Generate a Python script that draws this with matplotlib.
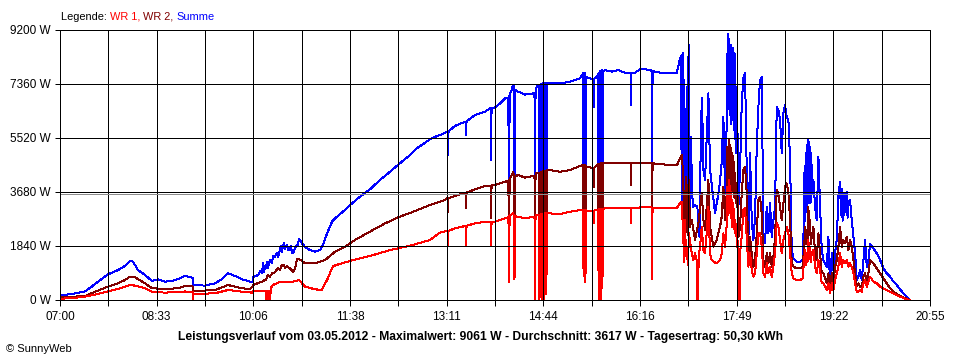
import matplotlib
matplotlib.use("Agg")
import matplotlib.pyplot as plt
import numpy as np

# ---------------- data (minutes after 07:00, watts) ----------------
x_labels = ["07:00", "08:33", "10:06", "11:38", "13:11", "14:44", "16:16", "17:49", "19:22", "20:55"]
y_values = [0, 1840, 3680, 5520, 7360, 9200]
average_w = 3617
series_names = ["WR 1", "WR 2", "Summe"]
title = ("Leistungsverlauf vom 03.05.2012 - Maximalwert: 9061 W - "
         "Durchschnitt: 3617 W - Tagesertrag: 50,30 kWh")

summe = [
    (0, 160), (11.2, 205), (24.0, 295), (30.4, 455), (36.5, 625), (46.1, 875), (55.7, 1020),
    (62.4, 1160), (67.2, 1340), (70.1, 1305), (74.9, 1020), (81.6, 850), (88.3, 650), (94.1, 705),
    (100.8, 625), (107.5, 650), (113.3, 715), (120.0, 820), (124.8, 775), (127.2, 760), (127.6, 230),
    (128.1, 510), (129.6, 510), (139.2, 490), (148.8, 570), (155.5, 715), (161.2, 910), (168.0, 820),
    (174.7, 705), (182.4, 625), (184.8, 625), (185.2, 775), (190.0, 850), (192.5, 1000), (193.9, 910),
    (194.8, 1250), (195.7, 950), (196.8, 1150), (197.7, 1080), (198.6, 1300), (199.5, 1100),
    (201.5, 1360), (203.4, 1250), (204.4, 1500), (206.3, 1475), (208.2, 1600), (209.2, 1450),
    (211.1, 1700), (212.1, 1850), (213.0, 1650), (214.0, 1815), (215.0, 1950), (216.0, 1750),
    (217.9, 1875), (218.8, 1700), (220.7, 1700), (221.7, 1850), (222.6, 1600), (223.6, 1590),
    (225.5, 1750), (226.5, 1815), (228.4, 1900), (229.4, 2070), (230.3, 2050), (232.3, 1930),
    (235.1, 1815), (239.9, 1700), (244.7, 1645), (249.5, 1700), (252.4, 1875), (256.3, 2270),
    (261.1, 2670), (265.9, 2840), (271.6, 3010), (278.3, 3235), (287.9, 3520), (297.5, 3770),
    (307.1, 4090), (316.7, 4370), (326.3, 4660), (335.9, 4940), (342.6, 5170), (357.0, 5520),
    (364.7, 5620), (371.4, 5735), (371.9, 5735), (372.4, 4940), (372.9, 5750), (379.1, 5930),
    (388.7, 6075), (389.2, 6075), (389.7, 5620), (390.2, 6090), (398.3, 6300), (407.9, 6415),
    (412.7, 6530), (413.2, 6530), (413.7, 4770), (414.2, 6540), (417.5, 6565), (422.3, 6700),
    (427.1, 6870), (429.5, 6880), (430.0, 5960), (430.5, 6950), (431.0, 1100), (431.5, 7000),
    (433.0, 7100), (434.8, 7325), (435.3, 7300), (436.2, 1000), (436.7, 7000), (437.5, 7150),
    (439.6, 7100), (446.3, 7000), (453.9, 7040), (455.4, 7040), (455.9, 1100), (456.4, 7200),
    (458.8, 7325), (459.5, 7300), (460.2, 700), (460.7, 7300), (461.2, 800), (461.7, 7350),
    (462.2, 600), (462.7, 7350), (463.2, 900), (463.7, 7400), (464.2, 700), (464.7, 7350),
    (465.2, 1000), (465.7, 7400), (466.2, 800), (466.7, 7380), (467.2, 1200), (467.7, 7400),
    (468.4, 7380), (470.3, 7380), (479.9, 7380), (489.5, 7440), (499.1, 7550), (502.0, 7720),
    (502.5, 1000), (503.0, 7700), (503.5, 1200), (504.0, 7750), (504.5, 1300), (505.0, 7600),
    (508.7, 7550), (512.0, 7500), (512.5, 6590), (513.0, 7550), (515.4, 7600), (516.5, 7700),
    (517.0, 2000), (517.5, 7750), (518.0, 1900), (518.5, 7800), (519.0, 2200), (519.5, 7800),
    (520.0, 2500), (520.5, 7850), (521.0, 3000), (521.5, 7800), (523.1, 7835), (529.8, 7780),
    (535.6, 7835), (542.3, 7745), (547.1, 7720), (547.6, 7720), (548.0, 6640), (548.5, 7720),
    (551.8, 7745), (556.7, 7855), (561.5, 7855), (567.7, 7850), (568.2, 1020), (568.7, 7800),
    (571.1, 7780), (575.9, 7745), (580.7, 7745), (585.5, 7745), (590.3, 7745), (591.9, 7722),
    (595.1, 8233), (596.2, 8300), (596.7, 3000), (597.2, 8350), (597.7, 8404), (598.3, 4316),
    (598.8, 7500), (599.3, 6133), (599.9, 2726), (600.4, 6500), (601.0, 3000), (601.5, 7268),
    (602.1, 4000), (602.7, 8290), (603.2, 3500), (603.7, 8700), (604.4, 2726), (605.3, 5565),
    (607.3, 3180), (609.5, 3237), (611.7, 3180), (613.7, 2158), (615.3, 6133), (616.2, 6871),
    (617.5, 4429), (619.1, 4089), (620.7, 5565), (622.3, 7041), (623.9, 4429), (626.5, 3634),
    (628.7, 2953), (630.9, 3407), (632.9, 3861), (634.8, 4543), (636.7, 6246), (638.3, 3634),
    (640.0, 6200), (640.5, 8404), (641.0, 6500), (641.5, 9061), (642.0, 7000), (642.5, 8900),
    (643.1, 6300), (643.6, 8700), (644.1, 6000), (644.4, 8631), (644.9, 6500), (645.4, 8500),
    (645.7, 6133), (646.3, 8600), (646.9, 5800), (647.4, 8404), (647.9, 5500), (648.2, 7500),
    (648.7, 4997), (649.2, 7268), (649.5, 5200), (650.0, 6800), (650.5, 4500),
    (651.1, 3180), (652.7, 4429), (654.3, 6700), (655.9, 7552), (657.5, 7722), (659.1, 4429),
    (660.7, 2044), (662.3, 4997), (663.9, 2726), (665.5, 2044), (667.1, 2839), (668.7, 5224),
    (670.3, 6587), (671.9, 7496), (673.5, 7609), (675.1, 2271), (676.7, 1931), (678.3, 3180),
    (679.9, 2271), (681.5, 3294), (683.1, 2158), (684.7, 2726), (686.3, 3180), (687.9, 6587),
    (689.5, 6473), (691.1, 6133), (692.7, 4997), (694.3, 6360), (695.9, 6644), (697.5, 6246),
    (699.1, 6133), (700.7, 4770), (702.3, 1704), (703.9, 1420), (707.1, 1306), (710.3, 1306),
    (712.9, 1363), (714.1, 2953), (714.6, 4500), (715.1, 2700), (715.6, 5000), (716.1, 3000),
    (716.7, 5300), (717.2, 3200), (717.7, 5500), (718.2, 3300), (718.7, 5400), (719.3, 3500),
    (719.8, 5200), (720.3, 3300), (720.8, 5000), (721.3, 3600), (721.8, 4600), (722.4, 3861),
    (723.1, 4089), (724.7, 3180), (726.3, 2726), (727.9, 4884),
    (729.5, 3180), (731.1, 1704), (732.7, 1363), (735.9, 1136), (737.5, 2158), (739.1, 454),
    (740.7, 1590), (742.3, 1022), (743.9, 1590), (745.5, 2044), (747.1, 3521), (748.7, 4032),
    (749.5, 2900), (750.3, 3800), (751.1, 2700), (751.9, 3600), (752.7, 2900), (753.5, 3634),
    (754.3, 3000), (755.1, 3691), (755.9, 2800), (756.7, 3300), (758.3, 3407),
    (759.9, 2726), (761.5, 2158), (763.1, 1590), (764.7, 681), (766.3, 795), (767.9, 1022),
    (769.5, 681), (771.1, 1363), (772.7, 2044), (774.3, 1136), (775.9, 1363), (777.5, 1908),
    (780.7, 1760), (783.9, 1590), (787.1, 1363), (790.3, 1079), (793.5, 908), (796.7, 795),
    (799.9, 625), (803.1, 511), (806.3, 363), (809.5, 227), (812.7, 114), (815.3, 20),
]

wr2 = [
    (0, 90), (24.0, 135), (36.5, 320), (46.1, 455), (55.7, 570), (62.4, 680), (67.2, 795),
    (72.0, 775), (81.6, 570), (88.3, 400), (100.8, 375), (113.3, 400), (120.0, 475), (127.2, 470),
    (127.6, 0), (128.1, 305), (129.6, 305), (148.8, 340), (161.2, 510), (174.7, 400), (182.4, 375),
    (184.8, 455), (185.2, 510), (193.9, 625), (197.7, 700), (199.5, 850), (201.5, 795), (203.4, 900),
    (206.3, 950), (209.2, 1100), (211.1, 1020), (213.0, 1200), (215.0, 1190), (216.0, 1100),
    (217.9, 1150), (220.7, 1080), (223.6, 965), (225.5, 1050), (227.5, 1385), (229.4, 1385),
    (232.3, 1330), (235.1, 1250), (244.7, 1250), (254.3, 1360), (263.9, 1645), (273.5, 1815),
    (283.1, 2045), (297.5, 2330), (311.9, 2610), (326.3, 2840), (340.7, 3030), (355.1, 3235),
    (364.7, 3350), (369.5, 3405), (371.4, 3465), (371.9, 3465), (372.4, 3010), (372.9, 3470),
    (379.1, 3545), (388.7, 3655), (389.2, 3655), (389.7, 3125), (390.2, 3660), (398.3, 3770),
    (407.9, 3885), (412.7, 3900), (413.2, 3900), (413.7, 2780), (414.2, 3910), (417.5, 3920),
    (427.1, 4030), (429.5, 4050), (430.0, 3580), (430.5, 4100), (431.0, 900), (431.5, 4150),
    (433.0, 4200), (434.8, 4370), (435.3, 4300), (436.2, 1300), (436.7, 4200), (439.6, 4260),
    (446.3, 4170), (453.9, 4225), (455.4, 4225), (455.9, 500), (456.4, 4300), (457.8, 4340),
    (459.5, 4340), (460.2, 600), (460.7, 4300), (461.2, 500), (461.7, 4350), (462.2, 450),
    (462.7, 4350), (463.2, 700), (463.7, 4400), (464.2, 550), (464.7, 4400), (465.2, 800),
    (465.7, 4400), (466.2, 600), (466.7, 4400), (467.2, 1000), (467.7, 4420), (468.4, 4430),
    (470.3, 4430), (479.9, 4370), (489.5, 4430), (497.2, 4540), (502.0, 4600), (502.5, 1000),
    (503.0, 4600), (503.5, 1100), (504.0, 4600), (504.5, 1200), (505.0, 4550), (508.7, 4520),
    (512.0, 4500), (512.5, 3860), (513.0, 4520), (515.4, 4600), (516.5, 4620), (517.0, 800),
    (517.5, 4650), (518.0, 700), (518.5, 4650), (519.0, 900), (519.5, 4660), (520.0, 1100),
    (520.5, 4680), (521.0, 1500), (521.5, 4680), (523.1, 4680), (532.7, 4660), (542.3, 4680),
    (547.6, 4680), (548.0, 3920), (548.5, 4680), (556.7, 4680), (566.3, 4680), (567.7, 4680),
    (568.2, 1020), (568.7, 4660), (575.9, 4630), (585.5, 4600), (592.2, 4600), (595.1, 4825),
    (597.0, 4940), (598.3, 3975), (599.1, 2300), (599.9, 2726), (600.7, 4200), (601.5, 3861),
    (602.3, 2200), (603.7, 4089), (604.5, 2498),
    (606.3, 2726), (609.5, 2044), (612.7, 2612), (615.9, 3634), (617.5, 2726), (619.1, 2385),
    (620.7, 3180), (622.3, 4089), (623.9, 2498), (627.1, 1817), (630.3, 2044), (633.5, 2498),
    (635.1, 2839), (636.7, 3861), (638.3, 2726),
    (640.0, 3700), (640.5, 5224), (641.0, 4000), (641.8, 5451), (642.3, 4300), (642.8, 5300),
    (643.1, 4000), (643.6, 5200), (644.1, 3800), (644.7, 4997), (645.2, 3700), (645.7, 4900),
    (646.3, 3861), (646.8, 4700), (647.3, 3500), (647.9, 4316), (648.4, 3300), (649.0, 4000),
    (649.5, 3180), (650.2, 3600), (651.1, 2158), (652.7, 2498),
    (654.3, 3634), (655.9, 4429), (657.5, 4543), (659.1, 3634), (660.7, 1590), (662.3, 2158),
    (663.9, 1590), (665.5, 1136), (667.1, 1363), (668.7, 2271), (670.3, 3407), (671.9, 3521),
    (673.5, 2953), (675.1, 1363), (676.7, 1136), (678.3, 1590), (679.9, 1249), (681.5, 1590),
    (683.1, 1136), (684.7, 1476), (686.3, 2158), (687.9, 3748), (689.5, 3634), (691.1, 3180),
    (692.7, 2726), (694.3, 3294), (695.9, 3861), (697.5, 3975), (699.1, 3634), (700.7, 2726),
    (702.3, 1249), (703.9, 1136), (707.1, 1079), (710.3, 1079), (712.9, 1136), (714.1, 1817),
    (715.4, 2498), (716.1, 1900), (716.7, 2271), (717.5, 2000), (718.3, 3180), (719.1, 2200),
    (719.9, 2726), (720.7, 1900), (721.5, 2158), (723.1, 2498),
    (724.7, 1590), (726.3, 1363), (727.9, 2271), (729.5, 1590), (731.1, 908), (732.7, 908),
    (735.9, 568), (737.5, 908), (739.1, 341), (740.7, 908), (742.3, 568), (743.9, 1136),
    (745.5, 1363), (747.1, 1817), (748.7, 2498), (750.3, 1817), (751.9, 2044), (753.5, 1931),
    (755.1, 2158), (756.7, 1704), (758.3, 2044), (759.9, 1817), (761.5, 1363), (763.1, 908),
    (764.7, 454), (766.3, 568), (767.9, 454), (769.5, 454), (771.1, 795), (772.7, 908),
    (774.3, 568), (775.9, 908), (777.5, 1363), (780.7, 1249), (783.9, 1079), (787.1, 908),
    (790.3, 738), (793.5, 568), (796.7, 397), (799.9, 284), (803.1, 204), (806.3, 148),
    (809.5, 91), (812.7, 45), (815.3, 0),
]

wr1 = [
    (0, 45), (11.2, 60), (24.0, 115), (36.5, 205), (46.1, 295), (55.7, 375), (67.2, 510),
    (72.0, 490), (81.6, 400), (88.3, 285), (100.8, 250), (113.3, 285), (120.0, 290), (127.2, 285),
    (127.6, 0), (128.1, 205), (129.6, 205), (148.8, 230), (161.2, 340), (174.7, 285), (184.3, 250),
    (185.2, 320), (193.9, 320), (197.7, 320), (198.2, 0), (198.6, 320), (199.7, 0), (200.1, 320),
    (201.8, 0), (202.2, 400), (204.4, 510), (211.1, 625), (220.7, 600), (229.4, 680), (235.1, 455),
    (244.7, 365), (251.4, 340), (253.4, 500), (256.3, 680), (260.1, 1000), (262.0, 1150),
    (265.9, 1200), (278.3, 1330), (297.5, 1500), (316.7, 1700), (335.9, 1850), (355.1, 2045),
    (364.7, 2295), (371.4, 2350), (371.9, 2350), (372.4, 1875), (372.9, 2360), (379.1, 2440),
    (388.7, 2520), (389.2, 2520), (389.7, 1875), (390.2, 2530), (398.3, 2610), (407.9, 2670),
    (413.2, 2670), (413.7, 1875), (414.2, 2670), (417.5, 2670), (427.1, 2780), (429.5, 2780),
    (430.0, 2610), (430.5, 2850), (431.0, 600), (431.5, 2880), (433.0, 2895), (434.8, 2950),
    (435.3, 2900), (436.2, 700), (436.7, 2850), (439.6, 2840), (446.3, 2780), (453.9, 2840),
    (455.4, 2840), (455.9, 0), (456.4, 2880), (457.8, 2900), (459.5, 2900), (460.2, 0),
    (460.7, 2900), (461.2, 400), (461.7, 2920), (462.2, 0), (462.7, 2920), (463.2, 500),
    (463.7, 2940), (464.2, 0), (464.7, 2940), (465.2, 700), (465.7, 2950), (466.2, 200),
    (466.7, 2950), (467.2, 900), (467.7, 2950), (468.4, 2950), (470.3, 2950), (479.9, 2930),
    (489.5, 3010), (499.1, 3065), (502.0, 3080), (502.5, 800), (503.0, 3080), (503.5, 600),
    (504.0, 3080), (504.5, 900), (505.0, 3050), (508.7, 3040), (512.0, 3040), (512.5, 2610),
    (513.0, 3050), (515.4, 3065), (516.5, 3080), (517.0, 0), (517.5, 3090), (518.0, 200),
    (518.5, 3090), (519.0, 0), (519.5, 3100), (520.0, 400), (520.5, 3100), (521.0, 800),
    (521.5, 3100), (523.1, 3125), (532.7, 3125), (542.3, 3125), (547.6, 3125), (548.0, 2610),
    (548.5, 3125), (556.7, 3155), (566.3, 3160), (567.7, 3160), (568.2, 700), (568.7, 3150),
    (575.9, 3125), (585.5, 3125), (592.2, 3150), (595.1, 3294), (596.7, 3351), (598.3, 2044),
    (599.1, 1300), (599.9, 2726), (600.7, 1500), (601.5, 1817), (602.6, 1200), (603.7, 2271),
    (606.3, 1590), (607.9, 1363), (609.5, 1590),
    (611.1, 1363), (611.7, 0), (612.3, 0), (613.0, 1500), (614.3, 1817), (615.9, 2498),
    (617.5, 1704), (619.1, 1590), (620.7, 2271), (622.3, 3180), (623.9, 1590), (625.5, 1363),
    (627.1, 1306), (630.3, 1249), (633.5, 1363), (635.1, 1590), (636.7, 2271), (638.3, 1817),
    (640.0, 2600), (640.5, 3861), (641.0, 2900), (641.8, 4089), (642.3, 3100), (642.8, 3900),
    (643.1, 2953), (643.6, 3700), (644.1, 2800), (644.7, 3407), (645.2, 2500), (645.7, 3300),
    (646.3, 2498), (646.8, 3100), (647.3, 2400), (647.9, 2726), (648.4, 2200), (649.0, 2600),
    (649.5, 1817), (650.2, 2100), (651.1, 1022), (651.7, 0), (652.4, 0), (652.7, 1590),
    (654.3, 2158),
    (655.9, 3067), (657.5, 3123), (659.1, 2158), (660.7, 1136), (662.3, 1590), (663.9, 1022),
    (665.5, 795), (667.1, 908), (668.7, 1590), (670.3, 2271), (671.9, 2271), (673.5, 1817),
    (675.1, 908), (676.7, 795), (678.3, 1249), (679.9, 908), (681.5, 1136), (683.1, 795),
    (684.7, 1136), (686.3, 1590), (687.9, 2612), (689.5, 2498), (691.1, 2044), (692.7, 1590),
    (694.3, 2044), (695.9, 2271), (697.5, 2498), (699.1, 2271), (700.7, 1590), (702.3, 908),
    (703.9, 738), (707.1, 681), (710.3, 681), (712.9, 738), (714.1, 1363), (715.4, 1704),
    (716.1, 1200), (716.7, 1590), (717.5, 1300), (718.3, 2044), (719.1, 1400), (719.9, 1817),
    (720.7, 1300), (721.5, 1590), (723.1, 1704), (724.7, 1136),
    (726.3, 908), (727.9, 1363), (729.5, 1022), (731.1, 568), (732.7, 568), (735.9, 341),
    (737.5, 568), (739.1, 227), (740.7, 568), (742.3, 341), (743.9, 681), (745.5, 908),
    (747.1, 1136), (748.7, 1590), (750.3, 1136), (751.9, 1363), (753.5, 1249), (755.1, 1363),
    (756.7, 1136), (758.3, 1249), (759.9, 1136), (761.5, 908), (763.1, 568), (764.7, 284),
    (766.3, 284), (767.9, 341), (769.5, 284), (771.1, 568), (772.7, 681), (774.3, 454),
    (775.9, 624), (777.5, 795), (780.7, 625), (783.9, 568), (787.1, 454), (790.3, 397),
    (793.5, 341), (796.7, 284), (799.9, 227), (803.1, 170), (806.3, 114), (809.5, 68),
    (812.7, 23), (815.3, 0),
]

colors = {"WR 1": "#ff0000", "WR 2": "#800000", "Summe": "#0000ff"}

# ---------------- figure ----------------
W, H = 960, 360
fig = plt.figure(figsize=(W / 100, H / 100), dpi=100)
fig.patch.set_facecolor("white")
ax = fig.add_axes([60 / W, 60 / H, 870 / W, 270 / H])

start = 7 * 60
end = 20 * 60 + 55
FONT = "Liberation Sans"
LW = 0.72

for name, data in [("Summe", summe), ("WR 2", wr2), ("WR 1", wr1)]:
    t = np.array([start + p[0] for p in data])
    v = np.array([p[1] for p in data])
    ax.plot(t, v, color=colors[name], lw=LW, antialiased=False, zorder=2)

ax.set_xlim(start, end)
ax.set_ylim(0, 9200)

major = np.linspace(start, end, len(x_labels))
minor = (major[:-1] + major[1:]) / 2
for xv in list(major[1:-1]) + list(minor):
    ax.axvline(xv, color="black", lw=LW, zorder=3, antialiased=False)
for yv in y_values[1:-1]:
    ax.axhline(yv, color="black", lw=LW, zorder=3, antialiased=False)
ax.axhline(average_w, color="#8c8c8c", lw=LW, zorder=4, antialiased=False)

for s in ax.spines.values():
    s.set_linewidth(LW)
    s.set_color("black")
    s.set_zorder(5)
    s.set_antialiased(False)

ax.set_xticks(major)
ax.set_xticklabels(x_labels)
ax.set_xticks(minor, minor=True)
ax.set_yticks(y_values)
ax.set_yticklabels([f"{v} W" for v in y_values])
ax.tick_params(axis="x", which="both", direction="out", length=4.3, width=LW,
               pad=3.5, labelsize=8.5, colors="black")
ax.tick_params(axis="y", direction="out", length=3.6, width=LW, pad=3.0,
               labelsize=8.5, colors="black")
for lab in ax.get_xticklabels() + ax.get_yticklabels():
    lab.set_fontfamily(FONT)

# legend line at top
fig.canvas.draw()
renderer = fig.canvas.get_renderer()
x_px = 61
pieces = [("Legende: ", "black")] + [
    (n + (", " if i < 2 else ""), colors[n]) for i, n in enumerate(series_names)]
for txt, col in pieces:
    tt = fig.text(x_px / W, 1 - 16.5 / H, txt, color=col, fontsize=7.9, family=FONT,
                  va="center", ha="left")
    bb = tt.get_window_extent(renderer)
    x_px += bb.width

fig.text(480 / W, 1 - 337 / H, title, fontsize=8.7, fontweight="bold", family=FONT,
         ha="center", va="center", color="black")
fig.text(6 / W, 1 - 349 / H, "\u00a9 SunnyWeb", fontsize=8, family=FONT,
         ha="left", va="center", color="black")

fig.savefig("out.png", dpi=100, facecolor="white")
